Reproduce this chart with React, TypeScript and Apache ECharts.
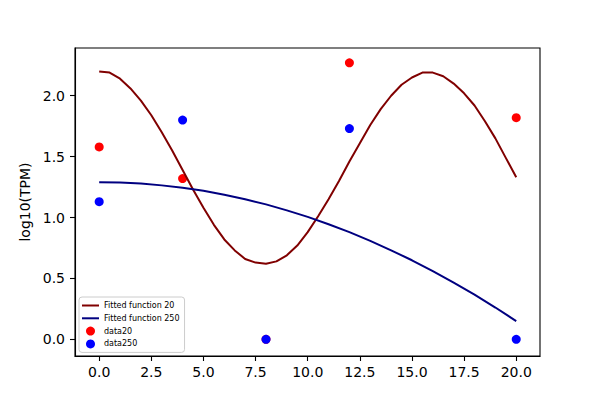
import React, { useEffect, useRef } from "react";
import * as echarts from "echarts";

const fitX20: number[] = [0, 0.5, 1, 1.5, 2, 2.5, 3, 3.5, 4, 4.5, 5, 5.5, 6, 6.5, 7, 7.5, 8, 8.5, 9, 9.5, 10, 10.5, 11, 11.5, 12, 12.5, 13, 13.5, 14, 14.5, 15, 15.5, 16, 16.5, 17, 17.5, 18, 18.5, 19, 19.5, 20];
const fitY20: number[] = [2.2, 2.19, 2.14, 2.06, 1.96, 1.84, 1.7, 1.55, 1.39, 1.23, 1.08, 0.94, 0.82, 0.73, 0.66, 0.63, 0.62, 0.64, 0.69, 0.77, 0.88, 1.01, 1.15, 1.3, 1.46, 1.61, 1.76, 1.89, 2.0, 2.09, 2.15, 2.19, 2.19, 2.16, 2.1, 2.02, 1.92, 1.79, 1.65, 1.49, 1.33];

const fitX250: number[] = [0, 1, 2, 3, 4, 5, 6, 7, 8, 9, 10, 11, 12, 13, 14, 15, 16, 17, 18, 19, 20];
const fitY250: number[] = [1.29, 1.287, 1.279, 1.264, 1.244, 1.219, 1.187, 1.15, 1.108, 1.059, 1.005, 0.945, 0.88, 0.808, 0.731, 0.649, 0.56, 0.466, 0.367, 0.261, 0.15];

const dataX: number[] = [0, 4, 8, 12, 20];
const data20: number[] = [1.58, 1.32, 0, 2.27, 1.82];
const data250: number[] = [1.13, 1.8, 0, 1.73, 0];

const xTicks: number[] = [0, 2.5, 5, 7.5, 10, 12.5, 15, 17.5, 20];
const yTicks: number[] = [0, 0.5, 1, 1.5, 2];

const FONT = "DejaVu Sans";
const LINE_ICON = "path://M0,0 L17,0 L17,2 L0,2 Z";

export default function App() {
  const ref = useRef<HTMLDivElement>(null);
  useEffect(() => {
    if (!ref.current) return;
    const chart = echarts.init(ref.current, undefined, { renderer: "svg" });
    const pair = (xs: number[], ys: number[]) => xs.map((x, i) => [x, ys[i]]);
    chart.setOption({
      animation: false,
      backgroundColor: "#ffffff",
      textStyle: { fontFamily: FONT },
      grid: {
        left: 75,
        right: 60,
        top: 48,
        bottom: 44,
        show: true,
        borderColor: "#000000",
        borderWidth: 1.1,
        containLabel: false,
        outerBoundsMode: "none",
      },
      xAxis: {
        type: "value",
        min: -1.16,
        max: 21.14,
        splitLine: { show: false },
        axisLine: { show: true, onZero: false, lineStyle: { color: "#000", width: 1.1 } },
        axisTick: { show: true, length: 5, lineStyle: { color: "#000", width: 1.1 }, customValues: xTicks },
        axisLabel: {
          customValues: xTicks,
          formatter: (v: number) => v.toFixed(1),
          fontSize: 14,
          color: "#000",
          fontFamily: FONT,
          margin: 9,
        },
      },
      yAxis: {
        type: "value",
        min: -0.137,
        max: 2.392,
        name: "log10(TPM)",
        nameLocation: "middle",
        nameGap: 31,
        nameTextStyle: { fontSize: 14, color: "#000", fontFamily: FONT },
        splitLine: { show: false },
        axisLine: { show: true, onZero: false, lineStyle: { color: "#000", width: 1.1 } },
        axisTick: { show: true, length: 5, lineStyle: { color: "#000", width: 1.1 }, customValues: yTicks },
        axisLabel: {
          customValues: yTicks,
          formatter: (v: number) => v.toFixed(1),
          fontSize: 14,
          color: "#000",
          fontFamily: FONT,
          margin: 10,
        },
      },
      legend: {
        left: 79,
        top: 297,
        orient: "vertical",
        padding: [4, 5, 4, 3],
        itemWidth: 17,
        itemHeight: 9,
        itemGap: 3.8,
        itemTextGap: 6,
        borderColor: "#cccccc",
        borderWidth: 1,
        borderRadius: 3,
        backgroundColor: "rgba(255,255,255,0.8)",
        textStyle: { fontSize: 8, color: "#000", fontFamily: FONT, lineHeight: 9 },
        data: [
          { name: "Fitted function 20", icon: LINE_ICON, itemStyle: { color: "#800000" } },
          { name: "Fitted function 250", icon: LINE_ICON, itemStyle: { color: "#000080" } },
          { name: "data20", icon: "circle" },
          { name: "data250", icon: "circle" },
        ],
      },
      series: [
        {
          name: "Fitted function 20",
          type: "line",
          data: pair(fitX20, fitY20),
          smooth: false,
          symbol: "none",
          z: 3,
          lineStyle: { color: "#800000", width: 2 },
          itemStyle: { color: "#800000" },
        },
        {
          name: "Fitted function 250",
          type: "line",
          data: pair(fitX250, fitY250),
          smooth: false,
          symbol: "none",
          z: 3,
          lineStyle: { color: "#000080", width: 2 },
          itemStyle: { color: "#000080" },
        },
        {
          name: "data20",
          type: "scatter",
          data: pair(dataX, data20),
          symbol: "circle",
          symbolSize: 9,
          z: 2,
          itemStyle: { color: "#ff0000", opacity: 1 },
        },
        {
          name: "data250",
          type: "scatter",
          data: pair(dataX, data250),
          symbol: "circle",
          symbolSize: 9,
          z: 2,
          itemStyle: { color: "#0000ff", opacity: 1 },
        },
      ],
    });
    return () => chart.dispose();
  }, []);
  return (
    <div
      ref={ref}
      style={{ position: "fixed", left: 0, top: 0, width: 600, height: 400, background: "#fff" }}
    />
  );
}
